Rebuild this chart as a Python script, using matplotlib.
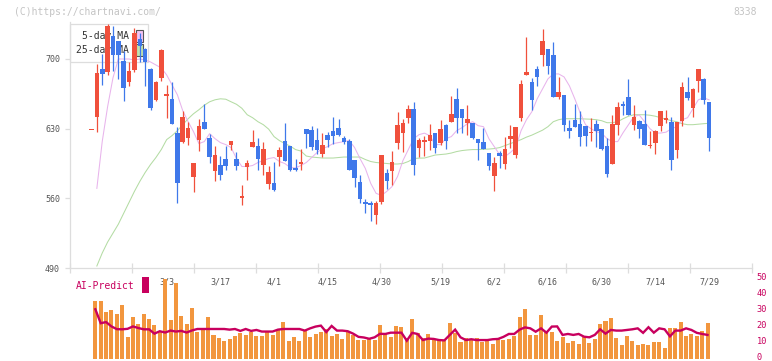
import numpy as np
import matplotlib
matplotlib.use("Agg")
import matplotlib.pyplot as plt
import matplotlib.transforms as mtransforms
from matplotlib.patches import Patch, Rectangle

nan = np.nan
# ---------------- data ----------------
opens = [629, 642, 690, 687, 723, 718, 698, 676.5, 689, 720, 710, 690, 659, 681, 663, 660, 626, 617, 621, 581,
         619, 637, 621, 587.5, 593.5, 599.5, 613.5, 599.5, 560, 591, 611.5, 612.5, 593.5, 574, 575.5, 601.5, 617.5, 612.5, 590, 595,
         629.5, 628.5, 618.5, 604.5, 623.5, 627.5, 630.5, 620.5, 617.5, 598.5, 576, 556.5, 555.5, 543, 556, 585.5, 587.5, 616, 625.5, 641,
         650, 611, 616.5, 617.5, 625.5, 615.5, 633.5, 637, 660, 650, 636, 635.5, 619.5, 616.5, 605.5, 582, 605.5, 595, 619.5, 603.5,
         641, 684, 677, 690, 704, 710, 704, 662, 664, 630.5, 638.5, 634.5, 632.5, 626, 634.5, 629.5, 612.5, 594.5, 633.5, 655,
         662, 633.5, 637.5, 634.5, 612.5, 615.5, 632.5, 639, 636.5, 608.5, 637.5, 667, 651, 678, 680, 657]
highs = [629, 695, 705, 735, 733, 718, 708, 697, 731, 726, 711, 691, 678, 710, 674, 677, 632, 648, 637, 596,
         640, 655, 625, 613, 602.5, 612.5, 618, 606.5, 573, 598.5, 628.5, 621, 616.5, 592, 596.5, 611.5, 636, 613, 599.5, 609.5,
         629.5, 632.5, 631, 625.5, 626.5, 642, 639.5, 622.5, 619.5, 598.5, 583.5, 559.5, 557.5, 557.5, 603.5, 589.5, 607.5, 647, 639.5, 654,
         657, 620.5, 622.5, 635, 625.5, 638.5, 634.5, 663, 671, 650, 654, 635.5, 619.5, 630.5, 605.5, 601.5, 607.5, 621.5, 633.5, 632,
         679, 722, 681, 693, 730, 710, 717, 682, 664, 638.5, 655, 648, 632.5, 641, 638.5, 629.5, 620.5, 644, 657, 658,
         680, 654, 638.5, 649, 627.5, 628.5, 648, 649, 642, 636.5, 677, 682, 671, 690, 681, 657]
lows = [629, 627, 674, 684, 688, 680, 658, 672.5, 687, 697, 673, 649, 658, 678, 641, 635, 555, 616, 614, 566,
        608, 630, 596, 577, 578.5, 588, 608.5, 588, 553.5, 578, 611.5, 588, 583.5, 569, 567, 592, 597.5, 587, 587, 588,
        610.5, 608.5, 604.5, 601.5, 611.5, 614.5, 622.5, 614.5, 588.5, 571, 555.5, 545.5, 537.5, 534.5, 554.5, 569.5, 573.5, 609.5, 606.5, 635.5,
        583, 602, 603, 609, 606, 613.5, 609.5, 637, 626, 626, 623.5, 619.5, 598.5, 610, 588, 567, 590, 589, 611, 600.5,
        637.5, 684, 649, 673, 693, 685, 662, 660, 627.5, 620.5, 631.5, 612.5, 612.5, 617.5, 611.5, 608.5, 581.5, 594.5, 623.5, 644,
        644, 628.5, 620.5, 613.5, 611, 605, 627.5, 635.5, 588, 601, 632.5, 659, 642, 667, 655, 607.5]
closes = [629, 686, 685, 733, 704, 704, 671, 687.5, 726, 713, 697, 651, 677, 709, 665, 635, 575, 642, 631, 595,
          633, 630, 602, 603.5, 583, 592, 617.5, 592, 562, 596, 616.5, 600, 609.5, 586.5, 568, 608.5, 597.5, 588, 588, 597,
          624.5, 611.5, 608.5, 613.5, 618.5, 622.5, 623.5, 616.5, 588.5, 580.5, 559.5, 554.5, 553, 555, 603.5, 577.5, 596.5, 634, 635.5, 650,
          593, 618.5, 618.5, 623.5, 611, 629.5, 618, 645, 641, 641, 639.5, 621, 616, 610, 592, 595.5, 602.5, 609.5, 623, 632,
          675, 687, 659, 682, 718, 693, 662, 667, 633.5, 627.5, 631.5, 621.5, 622.5, 627, 627.5, 609.5, 584.5, 634.5, 652, 653,
          644, 642, 629.5, 613.5, 613.5, 627.5, 648, 640.5, 598.5, 636.5, 672, 661, 670, 690, 659, 620.5]
ma5 = [nan, 570, 617, 652, 681, 700, 700, 700, 699, 700, 699, 697, 694, 691, 684, 674, 664, 648, 637, 627,
       615, 617, 625, 620, 616, 614, 611, 600, 592, 592, 593, 596, 598, 600, 601, 597, 595, 591, 590.5, 593,
       596, 601, 606, 610, 612, 615, 616, 617, 618, 611, 600, 590, 575, 565, 563, 567, 572, 582, 598, 609,
       620, 624, 625.5, 623, 614, 614, 620, 622, 628, 631, 635, 637, 633, 632, 620, 612, 604, 602, 606, 611,
       628, 639, 647, 660, 670, 680, 685, 685, 682, 673, 660, 646, 634, 630, 627, 625.5, 620, 617, 617, 626,
       634, 642, 643.8, 637, 630, 625.6, 625.6, 626.5, 630, 632, 639, 641, 650, 659, 661, 659]
ma25 = [nan, 492, 505, 516, 525, 534, 545, 556, 567, 577, 586, 594, 601, 609, 619, 623, 628, 634, 640, 645,
        649, 653.5, 657, 659, 660, 659.6, 657, 654.5, 650.5, 644, 641, 637, 634, 629.5, 622, 618, 615, 612.5, 609, 607.5,
        602.5, 601.5, 601, 600.5, 600.5, 600.5, 601, 601.5, 601.5, 601.5, 601.5, 599, 597, 596, 595.5, 595, 594.5, 594.5, 595, 597,
        600, 600.4, 600.5, 602, 603.5, 604, 604.5, 605.5, 607, 608, 608.6, 609, 609, 609.3, 609.5, 610, 611, 613, 615, 617,
        619, 621.5, 623.5, 626, 628.5, 632, 637, 639, 640, 640, 640, 640, 639.7, 639.5, 639, 638, 636, 636, 637, 640,
        642.5, 644, 644, 644, 643.5, 642.5, 641, 639.5, 638, 637, 635, 634, 634, 634.5, 635, 635.4]
ai_bars = [nan, 35.8, 35.8, 29, 30.2, 27.9, 33.5, 13.4, 25.9, 21.5, 27.9, 24.6, 21.1, 16.5, 49.6, 24, 47.1, 26.5, 21.5, 31.5,
           16.5, 18.6, 25.9, 14.7, 12.8, 10.9, 12.2, 14, 16.1, 14.7, 16.5, 14, 14, 16.5, 14.7, 18.4, 22.8, 10.9, 13.4, 10.9,
           17.1, 13.4, 15.3, 16.5, 18.4, 14, 15.3, 12.2, 16.5, 14.7, 11.5, 11.5, 12.8, 11.5, 20.8, 15.3, 13.4, 20.3, 19.6, 12.8,
           24.6, 15.9, 12.8, 15.3, 12.2, 11.5, 11.5, 22.1, 15.9, 10.3, 12.8, 12.2, 12.8, 10.3, 11.5, 9, 12.2, 11.5, 12.2, 14,
           25.9, 30.9, 14.7, 14.7, 27.1, 16.5, 16.5, 11, 13.5, 9.5, 11, 9, 13.5, 9.5, 12, 21.5, 23.5, 25, 13, 8.5,
           14, 11, 8.5, 9, 8.5, 10.5, 10.5, 6.5, 19, 19, 22.5, 14, 15, 14, 17, 22]
ai_line = [nan, 30.7, 22, 22.7, 20, 18.3, 18.2, 18.5, 20, 19, 18.2, 18.2, 15.5, 17, 16.2, 17.4, 16.8, 17.2, 16.2, 17.5,
           18.4, 18.4, 18.4, 18.4, 18.4, 18.4, 18, 18.4, 17.2, 18.4, 17.2, 17.8, 16.8, 16.8, 16.8, 18, 18.4, 18.4, 18.4, 18.4,
           17.4, 18.8, 19.9, 20.5, 16.5, 20.3, 17.4, 17.4, 17, 15.5, 13.5, 13.1, 12.3, 13.2, 15.4, 15.3, 16.1, 16.1, 16.1, 11.1,
           16, 15.3, 11.5, 12.4, 12.2, 11.5, 11.3, 14.7, 18, 13.2, 11.5, 12, 11.5, 11.5, 11.5, 12, 12.2, 13.5, 15.3, 15.3,
           18, 19.4, 18.8, 16.7, 18.8, 16.1, 19.9, 20, 14.7, 15.3, 14.7, 15.3, 13.6, 13.2, 14.7, 18.2, 15.5, 17.8, 17.4, 17.4,
           17.8, 18.2, 18.8, 16, 19.5, 16.1, 18.8, 18.2, 13.8, 17.4, 17.4, 18.8, 17.8, 16, 15.3, 14.7]
date_labels = ["3/3", "3/17", "4/1", "4/15", "4/30", "5/19", "6/2", "6/16", "6/30", "7/14", "7/29"]
date_index = [14, 24, 34, 44, 54, 65, 75, 85, 95, 105, 115]
price_ticks = [490, 560, 630, 700]
ai_ticks = [0, 10, 20, 30, 40, 50]

for arr in (opens, highs, lows, closes, ma5, ma25, ai_bars, ai_line):
    assert len(arr) == 116, len(arr)

# ---------------- styling ----------------
RED = "#f0503c"
BLUE = "#3f78ea"
PINK = "#e8b4ec"
GREEN = "#b4dca4"
ORANGE = "#f2963e"
CRIMSON = "#c8005e"
GRID = "#dddddd"
MONO = "DejaVu Sans Mono"

W, H = 772, 361
fig = plt.figure(figsize=(W / 100, H / 100), dpi=100)

def frame(x0, y_top, x1, y_bot):
    return [x0 / W, 1 - y_bot / H, (x1 - x0) / W, (y_bot - y_top) / H]

ax1 = fig.add_axes(frame(70, 22, 752, 268))
ax2 = fig.add_axes(frame(70, 278.3, 752, 358.5))

o = np.array(opens, float); c = np.array(closes, float)
hi = np.array(highs, float); lo = np.array(lows, float)
x = np.arange(len(o))
up = c >= o
cols = np.where(up, RED, BLUE)

ax1.plot(x, ma25, color=GREEN, lw=0.75, zorder=2)
ax1.plot(x, ma5, color=PINK, lw=0.75, zorder=2)
ax1.vlines(x, lo, hi, colors=cols, lw=0.9, zorder=3)
body_lo = np.minimum(o, c)
body_h = np.abs(c - o)
small = body_h < 1.2
body_lo = np.where(small, (o + c) / 2 - 0.6, body_lo)
body_h = np.where(small, 1.2, body_h)
ax1.bar(x, body_h, bottom=body_lo, width=0.85, color=cols, linewidth=0, zorder=4)

ax1.set_xlim(-4.0, 123.0)
ax1.set_ylim(490, 490 + 246 * 210 / 209)
for s in ("top", "right"):
    ax1.spines[s].set_visible(False)
for s in ("left", "bottom"):
    ax1.spines[s].set_color(GRID)
    ax1.spines[s].set_linewidth(0.9)
ax1.set_xticks(-4.0 + np.arange(12) * 127 / 11)
ax1.tick_params(axis="x", direction="inout", length=6.5, width=0.9, color=GRID, labelbottom=False)
ax1.set_yticks(price_ticks)
ax1.set_yticklabels([str(t) for t in price_ticks], fontfamily=MONO, fontsize=6, color="#555555")
ax1.tick_params(axis="y", direction="out", length=3.6, width=0.9, color=GRID, pad=3.6)

for lab, idx in zip(date_labels, date_index):
    ax1.text(idx, 490 - 14 * 210 / 209, lab, ha="center", va="center", fontfamily=MONO,
             fontsize=6, color="#555555", clip_on=False, zorder=0.5)

handles = [Patch(facecolor="#f4c4f4", edgecolor="#555555", lw=0.8),
           Patch(facecolor="#c0e4b0", edgecolor="#555555", lw=0.8)]
leg = ax1.legend(handles, ["5-day MA", "25-day MA"], loc="upper left",
                 bbox_to_anchor=(0, 1 - 2 / 246), borderaxespad=0, markerfirst=False,
                 prop={"family": MONO, "size": 7}, handlelength=0.62, handleheight=1.55,
                 handletextpad=0.8, labelspacing=0.2, borderpad=0.6, fancybox=False,
                 framealpha=1, edgecolor=GRID, labelcolor="#333333")
leg.get_frame().set_linewidth(0.9)
leg.set_zorder(1)

# ---------------- lower panel ----------------
ax2.bar(x, ai_bars, width=0.75, color=ORANGE, linewidth=0, zorder=2)
ax2.plot(x, ai_line, color=CRIMSON, lw=1.7, zorder=3, solid_joinstyle="miter")
ax2.set_xlim(-3.72, 123.28)
ax2.set_ylim(0, 50)
for s in ax2.spines.values():
    s.set_visible(False)
ax2.patch.set_alpha(0)
ax2.set_xticks([])
ax2.yaxis.tick_right()
ax2.set_yticks(ai_ticks)
ax2.set_yticklabels([str(t) for t in ai_ticks], fontfamily=MONO, fontsize=6.2, color=CRIMSON)
ax2.tick_params(axis="y", length=0, pad=3.5)
shift_up = mtransforms.ScaledTranslation(0, 2.2 / 100, fig.dpi_scale_trans)
for lab in ax2.get_yticklabels():
    lab.set_transform(lab.get_transform() + shift_up)
ax2.text((76 - 70) / 682, (358.5 - 286) / 80.2, "AI-Predict", transform=ax2.transAxes,
         ha="left", va="center", fontfamily=MONO, fontsize=7, color=CRIMSON)
ax2.add_patch(Rectangle(((142 - 70) / 682, (358.5 - 293) / 80.2), 7 / 682, 16 / 80.2,
                        transform=ax2.transAxes, facecolor=CRIMSON, edgecolor="none", clip_on=False))

fig.text(14 / W, 1 - 12 / H, "(C)https://chartnavi.com/", ha="left", va="center",
         fontfamily=MONO, fontsize=7, color="#c4c4c4")
fig.text(757 / W, 1 - 12 / H, "8338", ha="right", va="center",
         fontfamily=MONO, fontsize=7, color="#c4c4c4")

fig.savefig("out.png", dpi=100)
